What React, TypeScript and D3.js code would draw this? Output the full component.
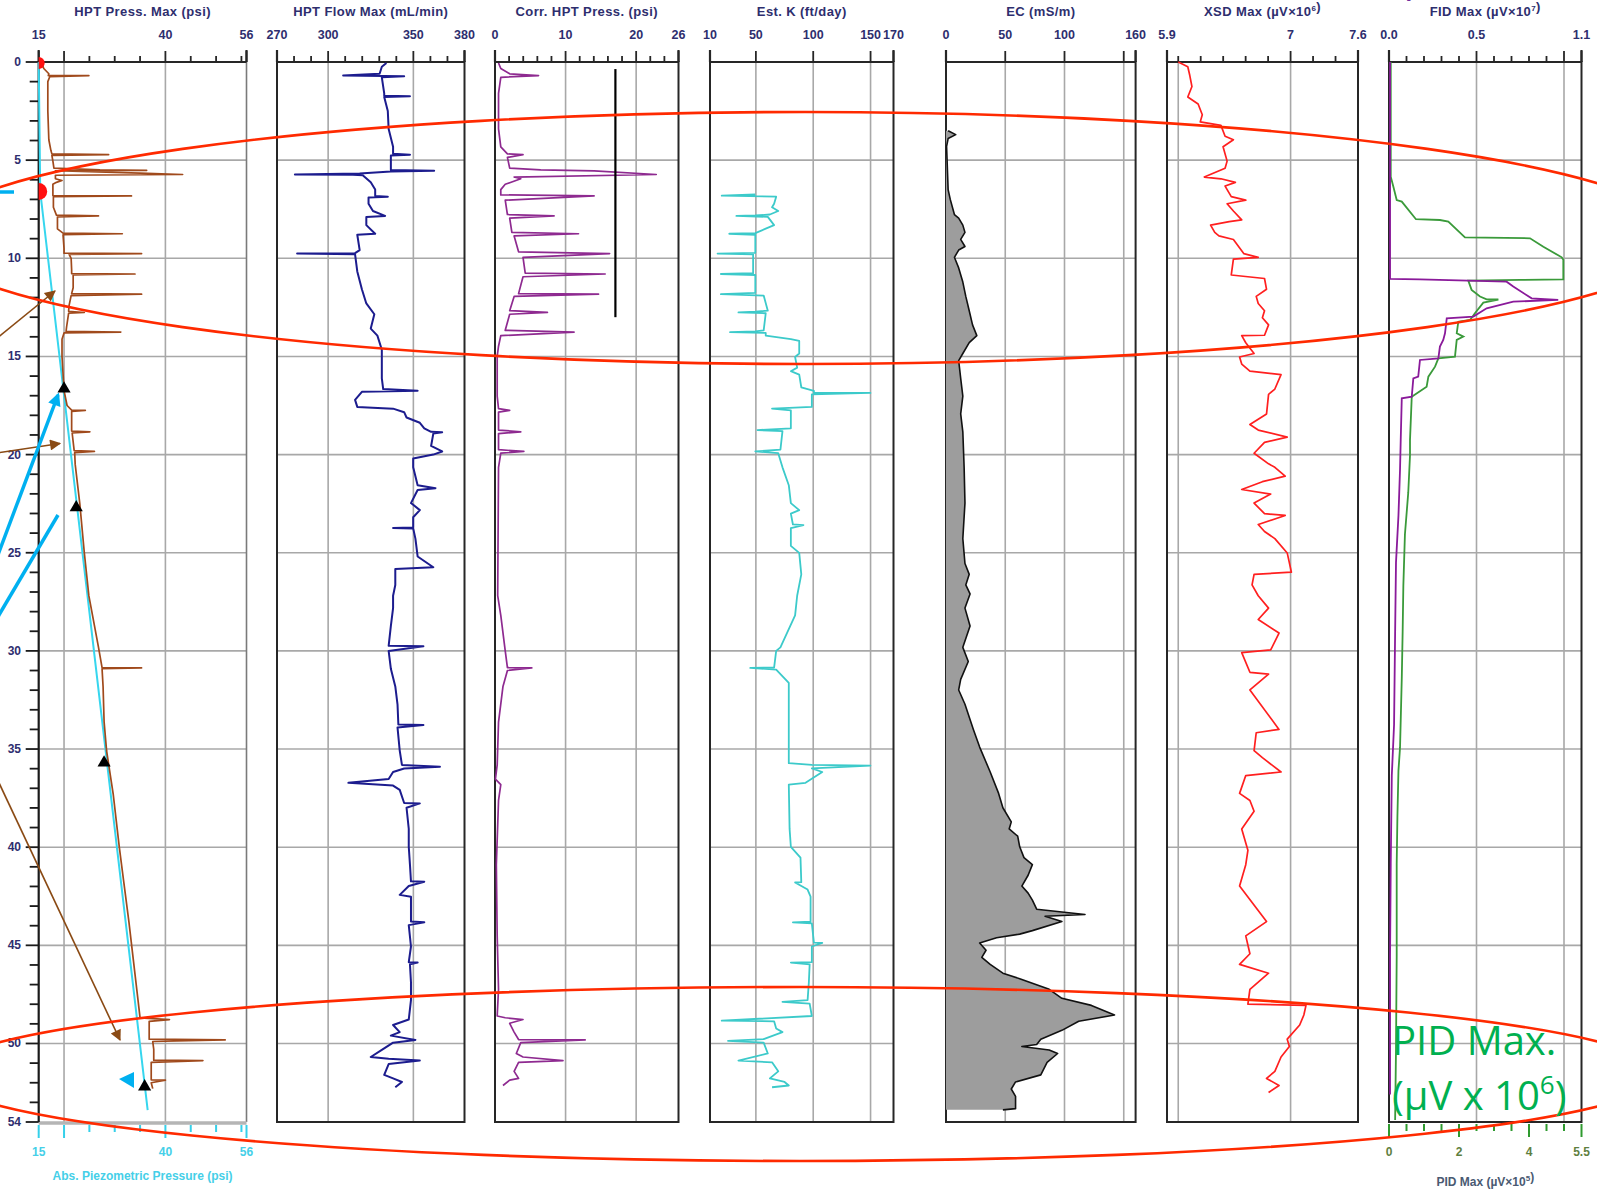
import React from 'react';
import * as d3 from 'd3';

type P = [number, number];

// ---------- DATA (depth ft, value) ----------
const depthLabels = [0, 5, 10, 15, 20, 25, 30, 35, 40, 45, 50, 54];

const hptPress: P[] = [[0.05,15.6],[0.33,16.0],[0.6,17.0],[0.69,16.9],[0.69,24.9],[0.74,17.2],[1.0,16.8],[2.5,16.8],[3.96,17.0],[4.5,17.4],[4.68,17.6],[4.72,28.8],[4.76,17.6],[5.05,17.8],[5.41,18.0],[5.5,27.1],[5.52,36.3],[5.54,18.3],[5.66,35],[5.73,43.4],[5.77,18.3],[5.95,18.3],[6.04,19.6],[6.13,18.5],[6.23,17.8],[6.5,17.8],[6.8,17.8],[6.82,33.3],[6.86,17.9],[7.4,17.9],[7.8,18.5],[7.84,26.8],[7.89,18.7],[8.5,18.7],[8.72,19.8],[8.75,31.5],[8.8,19.8],[9.5,20.0],[9.74,20.0],[9.76,35.3],[9.8,21.0],[10.0,21.4],[10.6,21.5],[10.78,21.5],[10.8,34.0],[10.85,21.8],[11.5,21.8],[11.8,21.5],[11.83,35.3],[11.9,21.4],[12.4,21.0],[12.7,20.9],[12.76,24.0],[12.8,20.9],[13.5,20.5],[13.72,20.4],[13.76,31.2],[13.8,20.0],[14.12,19.6],[15.0,19.6],[16.3,19.9],[16.75,20.0],[17.5,20.6],[17.73,21.5],[17.75,24.2],[17.8,21.5],[18.8,21.5],[18.84,25.1],[18.9,21.6],[19.8,22.0],[19.84,26.0],[19.9,22.1],[20.5,22.2],[22.47,23.1],[25.0,24.0],[27.2,24.9],[29.82,26.8],[30.85,27.5],[30.87,35.3],[30.91,27.5],[31.8,27.7],[33.6,27.9],[35.1,28.4],[37.3,29.7],[40.0,30.9],[41.8,31.8],[43.8,32.8],[45.8,33.7],[47.8,34.6],[48.7,35.0],[48.78,40.8],[48.87,36.8],[49.78,36.8],[49.82,51.8],[49.9,37.5],[50.3,37.7],[50.85,37.7],[50.87,47.4],[50.96,37.2],[51.5,37.2],[51.85,37.2],[51.87,40.0],[52.0,37.2],[52.3,37.5]];

const piezometric: P[] = [[0, 15.0], [6.6, 15.3], [53.4, 36.5]];
const waterMarks: P[] = [[16.75, 20.0], [22.8, 22.4], [35.8, 27.9], [52.3, 35.9]];
const redMarks: P[] = [[0.05, 15.0], [6.6, 15.0]];

const hptFlow: P[] = [[0.05,334.2],[0.24,331.5],[0.6,330.2],[0.69,308.8],[0.72,344.6],[0.78,331.5],[1.6,332.9],[1.72,332.9],[1.74,348],[1.78,332.9],[2.5,335],[3.41,335.5],[4.32,338.1],[4.68,338.1],[4.72,348],[4.76,336.8],[5.5,336.8],[5.54,362.2],[5.58,336.8],[5.68,318.5],[5.73,280.5],[5.75,314.5],[5.77,320.3],[6.13,325],[6.5,327.6],[6.82,327.6],[6.86,335],[6.9,323.7],[7.22,323.7],[7.59,326.3],[7.84,333.4],[7.89,322.4],[8.31,322.4],[8.75,327.6],[8.8,317.1],[9.58,318.5],[9.74,315.8],[9.76,281.8],[9.8,315.8],[10.67,317.1],[11.58,319.8],[12.3,322.4],[12.85,327.1],[13.58,325],[13.94,328.9],[14.66,331.5],[15.21,331.5],[16.12,331.5],[16.66,332.3],[16.75,352.5],[16.8,319.8],[17.21,315.8],[17.57,317.1],[17.66,338.1],[17.84,344.6],[18.11,346],[18.38,353.8],[18.66,356.4],[18.84,360.4],[18.86,366.9],[18.93,361.7],[19.56,360.4],[19.84,366.9],[20.0,361.7],[20.2,349.9],[20.65,349.9],[21.56,352.5],[21.71,363],[21.8,352.5],[22.47,348.6],[22.83,353.8],[23.19,349.9],[23.72,349.9],[23.74,338.1],[23.76,349.9],[24.28,351.2],[25.19,352.5],[25.74,361.7],[25.83,339.4],[26.64,339.4],[27.19,338.1],[27.82,338.1],[28.73,336.8],[29.74,335.5],[29.76,355.9],[30.0,335.5],[30.91,336.8],[31.81,339.4],[32.72,340.7],[33.75,341.2],[33.77,355.9],[33.9,340.7],[35.08,342],[35.81,343.3],[35.9,365.6],[35.99,344.6],[36.17,338.1],[36.53,335.5],[36.72,311.9],[36.86,338.1],[37.08,342],[37.75,344.6],[37.77,353.8],[37.99,346],[39.07,347.3],[39.98,347.3],[40.89,348],[41.74,348.6],[41.76,356.4],[41.98,347.3],[42.43,342],[42.52,348.6],[43.79,348.6],[43.83,356.4],[43.97,347.3],[45.06,348.6],[45.86,347.3],[45.88,352.5],[45.97,348],[46.88,348.6],[47.79,348.6],[48.78,347.3],[49.06,338.1],[49.42,342],[49.6,336.8],[49.82,351.2],[49.96,338.1],[50.33,331.5],[50.69,325],[50.78,335.5],[50.87,353.8],[51.05,335.5],[51.6,332.9],[51.78,338.1],[51.96,343.3],[52.23,339.4]];

const corrPress: P[] = [[0.05,0.5],[0.33,0.82],[0.6,2.08],[0.69,6.17],[0.78,0.82],[1.6,0.5],[3.41,0.5],[4.32,0.82],[4.68,1.76],[4.72,3.97],[4.86,1.76],[5.41,2.08],[5.5,6.48],[5.55,14.04],[5.73,22.85],[5.86,2.71],[5.95,3.65],[6.23,1.45],[6.5,0.82],[6.77,0.82],[6.82,14.04],[7.04,1.45],[7.77,1.76],[7.84,8.37],[7.95,2.08],[8.68,2.39],[8.75,11.83],[8.86,2.71],[9.67,3.34],[9.76,16.24],[9.95,3.97],[10.76,4.28],[10.8,15.61],[10.94,3.97],[11.8,3.34],[11.83,14.67],[11.94,2.71],[12.67,2.08],[12.76,7.43],[12.85,2.08],[13.67,1.45],[13.76,11.2],[13.94,0.82],[14.48,0.5],[14.99,0.31],[17.02,0.31],[17.66,0.5],[17.75,2.08],[17.84,0.5],[18.75,0.5],[18.84,3.65],[18.93,0.5],[19.75,0.5],[19.84,4.09],[19.93,0.82],[20.65,0.5],[27.19,0.38],[28.19,0.82],[30.0,1.45],[30.85,1.76],[30.87,5.22],[31.0,1.76],[31.81,1.13],[33.63,0.5],[35.81,0.31],[36.53,0.06],[36.81,0.82],[37.62,0.5],[40.89,0.19],[44.52,0.31],[47.24,0.5],[48.6,0.31],[48.69,1.45],[48.78,3.97],[48.97,2.08],[49.42,2.71],[49.8,3.34],[49.82,12.78],[49.96,3.65],[50.51,3.02],[50.69,3.97],[50.87,9.63],[50.96,3.34],[51.42,2.71],[51.78,3.34],[51.87,2.08],[52.14,1.13]];

const corrRefLine: P[] = [[0.36, 17.06], [13.0, 17.06]];

const estK: P[] = [[6.75,49.5],[6.81,20.2],[6.86,67.7],[7.22,65.9],[7.4,64.1],[7.59,69.5],[7.77,62.2],[7.82,49.5],[7.84,33.0],[7.89,60.4],[8.31,65.9],[8.49,58.6],[8.72,49.5],[8.75,26.8],[8.8,49.5],[9.72,49.5],[9.76,16.6],[9.8,47.6],[10.76,47.6],[10.8,19.5],[10.85,49.5],[11.76,49.5],[11.83,19.5],[11.9,56.8],[12.67,60.4],[12.72,49.5],[12.76,34.8],[12.8,58.6],[13.67,56.8],[13.72,49.5],[13.76,27.5],[13.8,58.6],[13.94,58.6],[14.12,80.5],[14.21,87.8],[14.85,87.8],[15.03,84.2],[15.57,86],[15.75,80.5],[15.93,87.8],[16.57,89.6],[16.75,100.6],[16.84,100.6],[16.86,149.9],[16.93,98.8],[17.57,98.8],[17.66,64.1],[17.75,80.5],[18.66,80.5],[18.75,51.3],[18.8,73.2],[19.75,71.4],[19.84,49.5],[19.93,69.5],[20.65,73.2],[21.56,78.7],[22.47,80.5],[22.83,87.8],[23.01,80.5],[23.56,82.3],[23.59,91.5],[23.74,80.5],[24.65,80.5],[25.01,87.8],[26.1,89.6],[27.19,86],[28.19,84.2],[29.82,71.4],[30.0,67.7],[30.85,65.9],[30.87,45.1],[30.95,67.7],[31.63,78.7],[33.63,78.7],[35.72,78.7],[35.81,98.8],[35.84,149.9],[35.99,98.8],[36.17,107.9],[36.72,93.3],[36.81,78.7],[39.07,79.4],[39.98,80.5],[40.53,88.9],[41.78,89.6],[41.8,84.2],[42.16,95.1],[42.52,97.7],[43.79,97.7],[43.83,82.3],[43.88,98.8],[44.86,100.6],[44.88,107.9],[45.06,98.8],[45.86,98.8],[45.88,80.5],[45.97,96.9],[46.88,96.2],[47.79,95.1],[47.88,73.2],[47.97,96.9],[48.6,98.8],[48.84,20.2],[48.87,65.9],[49.24,67.7],[49.42,73.2],[49.78,56.8],[49.87,25.7],[49.96,56.8],[50.51,60.4],[50.87,34.8],[50.96,64.1],[51.42,69.5],[51.78,62.2],[51.96,75],[52.14,78.7],[52.23,64.1]];

const ec: P[] = [[3.5,1.8],[3.7,8.2],[3.9,1.8],[4.3,0.5],[6.5,1.8],[7.0,3.6],[7.77,7.1],[7.95,10.7],[8.31,14.2],[8.68,16],[9.04,12.4],[9.4,16],[9.58,10.7],[9.95,7.1],[10.49,10.7],[11.21,14.2],[11.94,16.7],[12.67,19.6],[13.39,22.4],[13.94,26],[14.3,19.6],[14.85,14.2],[15.21,10.7],[16.12,12.4],[17.02,14.2],[17.93,12.4],[18.84,14.2],[20.65,15.3],[22.47,16],[24.28,14.2],[25.55,16],[26.1,19.6],[26.64,16.7],[27.1,20.3],[27.82,16],[28.73,20.3],[29.82,14.2],[30.54,18.8],[31.45,12.4],[31.99,10.7],[32.72,16],[34.0,23.1],[34.9,28.4],[36.17,37.3],[37.26,44.4],[37.99,48],[38.71,55.1],[39.07,53.3],[39.44,60.5],[39.98,62.2],[40.53,65.8],[40.89,72.9],[41.43,69.3],[41.98,64],[42.34,69.3],[42.7,72.9],[43.16,76.5],[43.43,117.3],[43.52,83.6],[43.79,97.8],[44.25,72.9],[44.43,62.2],[44.61,42.7],[44.88,28.4],[45.25,33.8],[45.61,30.2],[45.97,37.3],[46.42,48],[46.7,62.2],[47.24,87.1],[47.7,97.8],[48.06,122.7],[48.55,142.2],[48.87,112],[49.33,97.8],[49.78,80],[50.05,76.5],[50.15,64],[50.33,87.1],[50.51,94.2],[50.96,85.3],[51.6,80],[51.96,58.7],[52.32,55.1],[52.69,58.7],[53.32,58.7],[53.38,48]];

const xsd: P[] = [[0.0,6.0],[0.24,6.085],[0.69,6.103],[1.25,6.122],[1.78,6.085],[2.14,6.177],[2.69,6.214],[3.05,6.196],[3.23,6.38],[3.78,6.417],[3.96,6.491],[4.32,6.399],[5.05,6.435],[5.41,6.417],[5.86,6.232],[5.95,6.38],[6.13,6.509],[6.32,6.417],[6.86,6.472],[7.04,6.601],[7.22,6.435],[7.59,6.491],[8.04,6.565],[8.13,6.454],[8.31,6.288],[8.68,6.325],[8.86,6.362],[9.04,6.491],[9.76,6.583],[9.95,6.712],[10.04,6.491],[10.85,6.472],[11.03,6.768],[11.58,6.786],[11.94,6.694],[12.3,6.712],[12.67,6.768],[13.03,6.749],[13.39,6.804],[13.92,6.768],[13.94,6.565],[14.3,6.601],[14.85,6.675],[15.03,6.546],[15.39,6.565],[15.75,6.638],[15.93,6.915],[16.66,6.86],[16.93,6.804],[17.93,6.786],[18.47,6.638],[18.75,6.712],[19.11,6.97],[19.38,6.768],[19.93,6.675],[20.47,6.804],[20.65,6.86],[21.1,6.952],[21.38,6.749],[21.78,6.565],[22.01,6.823],[22.47,6.675],[23.01,6.768],[23.1,6.952],[23.56,6.712],[23.92,6.768],[24.28,6.86],[25.01,6.97],[25.99,7.007],[26.1,6.675],[26.64,6.657],[27.19,6.712],[27.82,6.804],[28.4,6.712],[29.09,6.897],[29.95,6.823],[30.09,6.565],[31.09,6.638],[31.18,6.804],[31.99,6.638],[34.0,6.897],[34.17,6.694],[35.08,6.675],[35.44,6.749],[36.17,6.915],[36.35,6.601],[37.26,6.546],[37.62,6.638],[38.17,6.675],[39.07,6.565],[40.16,6.62],[40.89,6.601],[41.98,6.546],[43.79,6.786],[44.52,6.601],[45.43,6.638],[45.97,6.546],[46.42,6.804],[47.24,6.638],[48.0,6.62],[48.06,7.137],[48.55,7.118],[49.06,7.081],[49.78,6.97],[50.15,6.989],[50.69,6.915],[51.42,6.86],[51.78,6.786],[52.14,6.897],[52.5,6.804]];

// PID Max (bottom scale, µV x10^5) - green
const pidMax: P[] = [[0,0.05],[5.84,0.05],[6.35,0.125],[7.03,0.22],[7.11,0.365],[8.01,0.77],[8.05,1.455],[8.13,1.695],[8.93,2.17],[8.98,4.03],[9.41,4.41],[9.95,4.935],[10.08,4.98],[11.07,4.98],[11.1,3.745],[11.14,2.265],[11.61,2.36],[11.95,2.6],[12.09,2.79],[12.1,3.125],[12.26,2.695],[12.8,2.455],[13.14,2.315],[13.23,1.98],[13.82,1.935],[13.99,2.125],[14.16,1.935],[15.01,1.885],[15.1,1.41],[15.52,1.315],[16.03,1.125],[16.54,1.075],[17.05,0.65],[19.26,0.6],[20.05,0.6],[21.94,0.55],[24.07,0.455],[26.67,0.41],[29.03,0.39],[31.39,0.365],[34.93,0.315],[36.11,0.27],[38.47,0.24],[40.84,0.22],[45.56,0.22],[50.28,0.2],[53.9,0.175]];

// FID Max (top scale, µV x10^7) - purple
const fidMax: P[] = [[0,0.006],[11.05,0.006],[11.07,0.177],[11.19,0.672],[11.44,0.71],[12.04,0.815],[12.12,0.967],[12.21,0.71],[12.55,0.558],[12.97,0.482],[13.06,0.33],[13.82,0.32],[14.16,0.31],[14.5,0.291],[15.1,0.282],[15.18,0.177],[16.03,0.167],[16.12,0.139],[17.05,0.13],[17.13,0.073],[19.26,0.067],[20.76,0.063],[23.12,0.054],[25.49,0.04],[29.03,0.035],[33.75,0.029],[36.35,0.016],[40.84,0.01],[45.56,0.006],[52.6,0.006]];

// ---------- AXIS DEFINITIONS ----------
const hptLabels = [15, 40, 56];
const flowLabels = [270, 300, 350, 380];
const corrLabels = [0, 10, 20, 26];
const kLabels = [10, 50, 100, 150, 170];
const ecLabels = [0, 50, 100, 160];
const xsdLabels = [5.9, 7, 7.6];
const fidLabels = [0, 0.5, 1.1];
const pidLabels = [0, 2, 4, 5.5];

const FONT = "'Liberation Sans', Arial, Helvetica, sans-serif";
const CALLOUT_FONT = "'Open Sans', 'Noto Sans', sans-serif";
const NAVY = '#2e2e6e';
const GRID = '#a8a8a8';

type Panel = {
  key: string;
  title: React.ReactNode;
  x0: number; x1: number;
  domain: [number, number];
  ticks: number[];
  majors: number[];
  labels: number[];
  fmt: (v: number) => string;
  grid: number[];
  frame: boolean;
};

const sup = (s: string) => <tspan dy={-5} fontSize={8}>{s}</tspan>;

const panels: Panel[] = [
  { key: 'hpt', title: 'HPT Press. Max (psi)', x0: 38.7, x1: 246.5, domain: [15, 56], ticks: [...d3.range(15, 56, 5), 56], majors: [15, 20, 40, 56], labels: hptLabels, fmt: String, grid: [20, 40], frame: false },
  { key: 'flow', title: 'HPT Flow Max (mL/min)', x0: 277, x1: 464.5, domain: [270, 380], ticks: d3.range(270, 381, 10), majors: [270, 300, 350, 380], labels: flowLabels, fmt: String, grid: [300, 350], frame: true },
  { key: 'corr', title: 'Corr. HPT Press. (psi)', x0: 495, x1: 678.5, domain: [0, 26], ticks: d3.range(0, 27, 2), majors: [0, 10, 20, 26], labels: corrLabels, fmt: String, grid: [10, 20], frame: true },
  { key: 'k', title: 'Est. K (ft/day)', x0: 710, x1: 893.5, domain: [10, 170], ticks: [10, 50, 100, 150, 170], majors: [10, 50, 100, 150, 170], labels: kLabels, fmt: String, grid: [50, 100, 150], frame: true },
  { key: 'ec', title: 'EC (mS/m)', x0: 946, x1: 1135.6, domain: [0, 160], ticks: [0, 50, 100, 150, 160], majors: [0, 50, 100, 150, 160], labels: ecLabels, fmt: String, grid: [50, 100, 150], frame: true },
  { key: 'xsd', title: <>XSD Max (µV×10{sup('6')})</>, x0: 1167, x1: 1358, domain: [5.9, 7.6], ticks: d3.range(6.0, 7.61, 0.2), majors: [5.9, 7, 7.6], labels: xsdLabels, fmt: String, grid: [6.0, 7.0], frame: true },
  { key: 'fid', title: <>FID Max (µV×10{sup('7')})</>, x0: 1389, x1: 1581.5, domain: [0, 1.1], ticks: d3.range(0, 1.101, 0.1), majors: [0, 0.5, 1.0, 1.1], labels: fidLabels, fmt: d3.format('.1f'), grid: [0.5, 1.0], frame: true },
];

export default function App() {
  const W = 1597, H = 1192;
  const y = d3.scaleLinear().domain([0, 54]).range([62, 1122]);
  const yTop = y(0), yBot = y(54);
  const xs: Record<string, d3.ScaleLinear<number, number>> = {};
  panels.forEach(p => { xs[p.key] = d3.scaleLinear().domain(p.domain).range([p.x0, p.x1]); });
  const pidX = d3.scaleLinear().domain([0, 5.5]).range([panels[6].x0, panels[6].x1]);

  const mk = (sc: d3.ScaleLinear<number, number>) =>
    d3.line<P>().x(d => sc(d[1])).y(d => y(d[0]));
  const ecArea = d3.area<P>().y(d => y(d[0])).x0(xs.ec(0)).x1(d => xs.ec(d[1]));
  const ecLine = mk(xs.ec);
  const tri = d3.symbol().type(d3.symbolTriangle).size(75)();
  const halfDisc = (r: number) => d3.arc()({ innerRadius: 0, outerRadius: r, startAngle: 0, endAngle: Math.PI } as any) as string;
  const depthTicks = d3.range(0, 55, 1);

  return (
    <svg width={W} height={H} viewBox={`0 0 ${W} ${H}`} style={{ position: 'absolute', left: 0, top: 0, background: '#fff', display: 'block' }} fontFamily={FONT}>
      <defs>
        <marker id="arrBrown" viewBox="0 0 10 10" refX="9" refY="5" markerWidth="13" markerHeight="11" markerUnits="userSpaceOnUse" orient="auto">
          <path d="M0,0 L10,5 L0,10 z" fill="#8a4a14" />
        </marker>
        <marker id="arrCyan" viewBox="0 0 10 10" refX="8" refY="5" markerWidth="15" markerHeight="13" markerUnits="userSpaceOnUse" orient="auto">
          <path d="M0,0 L10,5 L0,10 z" fill="#00b0f0" />
        </marker>
      </defs>
      <rect x={0} y={0} width={W} height={H} fill="#fff" />

      {/* partially visible callout texts cut by the page edges */}
      <text x={1392} y={-9} fontFamily={CALLOUT_FONT} fontSize={40} fill="#7030a0">(µV x 10<tspan dy={-16} fontSize={26}>7</tspan><tspan dy={16}>)</tspan></text>
      <text x={105} y={1212.5} fontFamily={CALLOUT_FONT} fontSize={27} fill="#0a9fe0">Abs. Piezometric Pressure (psi)</text>

      {/* panels: grid, frames, ticks, labels */}
      {panels.map(p => {
        const sc = xs[p.key];
        return (
          <g key={p.key}>
            {p.grid.map(g => <line key={'vg' + g} x1={sc(g)} x2={sc(g)} y1={yTop} y2={yBot} stroke={GRID} strokeWidth={1.6} />)}
            {d3.range(5, 51, 5).map(d => <line key={'hg' + d} x1={p.x0} x2={p.x1} y1={y(d)} y2={y(d)} stroke={GRID} strokeWidth={1.6} />)}
            {p.frame ? (
              <rect x={p.x0} y={yTop} width={p.x1 - p.x0} height={yBot - yTop} fill="none" stroke="#262626" strokeWidth={2} />
            ) : (
              <g>
                <line x1={p.x1} x2={p.x1} y1={yTop} y2={yBot} stroke="#7a7a7a" strokeWidth={1.6} />
                <line x1={p.x0} x2={p.x1} y1={yBot + 1} y2={yBot + 1} stroke="#b5b5b5" strokeWidth={3.5} />
                <line x1={p.x0} x2={p.x1} y1={yTop} y2={yTop} stroke="#262626" strokeWidth={2} />
              </g>
            )}
            {p.ticks.map(t => {
              const major = p.majors.some(m => Math.abs(m - t) < 1e-6);
              return <line key={'t' + t} x1={sc(t)} x2={sc(t)} y1={yTop} y2={yTop - (major ? 11 : 6)} stroke="#262626" strokeWidth={1.8} />;
            })}
            {p.majors.filter(m => Math.abs(m - p.domain[0]) < 1e-6 || Math.abs(m - p.domain[1]) < 1e-6).map(m =>
              <line key={'e' + m} x1={sc(m)} x2={sc(m)} y1={yTop} y2={yTop - 12} stroke="#262626" strokeWidth={2.2} />)}
            {p.labels.map(l => (
              <text key={'l' + l} x={sc(l)} y={39} textAnchor="middle" fontSize={12.5} fontWeight="bold" fill={NAVY}>{p.fmt(l)}</text>
            ))}
            <text x={(p.x0 + p.x1) / 2} y={16} textAnchor="middle" fontSize={13} letterSpacing={0.4} fontWeight="bold" fill={NAVY}>{p.title}</text>
          </g>
        );
      })}

      {/* depth axis */}
      <line x1={38.7} x2={38.7} y1={yTop} y2={yBot} stroke="#1a1a1a" strokeWidth={2.2} />
      {depthTicks.map(d => {
        const major = d % 5 === 0 || d === 54;
        return <line key={'dt' + d} x1={38.7} x2={38.7 - (major ? 13 : 9)} y1={y(d)} y2={y(d)} stroke="#1a1a1a" strokeWidth={1.8} />;
      })}
      {depthLabels.map(d => (
        <text key={'dl' + d} x={21} y={y(d) + 4} textAnchor="end" fontSize={12} fontWeight="bold" fill={NAVY}>{d}</text>
      ))}

      {/* bottom axis: Abs. piezometric pressure */}
      {panels[0].ticks.map(t => {
        const major = [15, 20, 40, 56].includes(t);
        return <line key={'bt' + t} x1={xs.hpt(t)} x2={xs.hpt(t)} y1={yBot + 3} y2={yBot + (major ? 16 : 10)} stroke="#35d0ea" strokeWidth={2} />;
      })}
      {hptLabels.map(l => <text key={'bl' + l} x={xs.hpt(l)} y={1156} textAnchor="middle" fontSize={12} fontWeight="bold" fill="#45cfe8">{l}</text>)}
      <text x={(panels[0].x0 + panels[0].x1) / 2} y={1180} textAnchor="middle" fontSize={12} fontWeight="bold" fill="#45cfe8">Abs. Piezometric Pressure (psi)</text>

      {/* bottom axis: PID */}
      {d3.range(0, 5.51, 0.5).map(t => {
        const major = [0, 2, 4, 5.5].some(m => Math.abs(m - t) < 1e-6);
        return <line key={'pt' + t} x1={pidX(t)} x2={pidX(t)} y1={yBot + 2} y2={yBot + (major ? 15 : 9)} stroke="#2f9a2f" strokeWidth={2} />;
      })}
      {pidLabels.map(l => <text key={'pl' + l} x={pidX(l)} y={1156} textAnchor="middle" fontSize={12} fontWeight="bold" fill="#5f7f3f">{l}</text>)}
      <text x={(panels[6].x0 + panels[6].x1) / 2} y={1186} textAnchor="middle" fontSize={12} fontWeight="bold" fill="#4a5a72">PID Max (µV×10{sup('5')})</text>

      {/* data: HPT press + piezometric */}
      <path d={mk(xs.hpt)(piezometric) as string} fill="none" stroke="#36d6ee" strokeWidth={2} />
      <path d={mk(xs.hpt)(hptPress) as string} fill="none" stroke="#a04a1c" strokeWidth={1.7} strokeLinejoin="round" />
      {redMarks.map((m, i) => <path key={'rm' + i} d={halfDisc(i === 0 ? 6 : 8.5)} transform={`translate(${xs.hpt(m[1])},${y(m[0])})`} fill="#ff1010" />)}
      {waterMarks.map((m, i) => <path key={'wm' + i} d={tri as string} transform={`translate(${xs.hpt(m[1])},${y(m[0]) - 2})`} fill="#000" />)}

      {/* HPT flow */}
      <path d={mk(xs.flow)(hptFlow) as string} fill="none" stroke="#1c1c8e" strokeWidth={2} strokeLinejoin="round" />
      {/* Corr HPT */}
      <path d={mk(xs.corr)(corrPress) as string} fill="none" stroke="#8e2a90" strokeWidth={1.7} strokeLinejoin="round" />
      <path d={mk(xs.corr)(corrRefLine) as string} fill="none" stroke="#000" strokeWidth={2.2} />
      {/* Est K */}
      <path d={mk(xs.k)(estK) as string} fill="none" stroke="#3ccaca" strokeWidth={1.8} strokeLinejoin="round" />
      {/* EC */}
      <path d={ecArea(ec) as string} fill="#9d9d9d" stroke="none" />
      <path d={ecLine(ec) as string} fill="none" stroke="#111" strokeWidth={1.6} strokeLinejoin="round" />
      {/* XSD */}
      <path d={mk(xs.xsd)(xsd) as string} fill="none" stroke="#ff1f1f" strokeWidth={1.7} strokeLinejoin="round" />
      {/* PID (green) and FID (purple) */}
      <path d={d3.line<P>().x(d => pidX(d[1])).y(d => y(d[0]))(pidMax) as string} fill="none" stroke="#3a9a3a" strokeWidth={1.8} />
      <path d={mk(xs.fid)(fidMax) as string} fill="none" stroke="#8a1a9a" strokeWidth={1.8} />

      {/* annotations */}
      <line x1={-20} y1={352} x2={55} y2={291} stroke="#8a4a14" strokeWidth={1.6} markerEnd="url(#arrBrown)" />
      <line x1={-10} y1={454} x2={60} y2={443.5} stroke="#8a4a14" strokeWidth={1.6} markerEnd="url(#arrBrown)" />
      <line x1={-8} y1={768} x2={120} y2={1040} stroke="#8a4a14" strokeWidth={1.6} markerEnd="url(#arrBrown)" />
      <line x1={-4} y1={560} x2={58} y2={395} stroke="#00b0f0" strokeWidth={3.5} markerEnd="url(#arrCyan)" />
      <line x1={-4} y1={620} x2={58} y2={515} stroke="#00b0f0" strokeWidth={3.5} />
      <line x1={0} y1={192} x2={14} y2={192} stroke="#00b0f0" strokeWidth={3.5} />
      <polygon points="119,1079 134,1072 134,1088" fill="#00b0f0" />

      {/* red ellipses */}
      <ellipse cx={805} cy={238} rx={880} ry={126} fill="none" stroke="#ff2a00" strokeWidth={2.6} />
      <ellipse cx={800} cy={1074} rx={860} ry={87} fill="none" stroke="#ff2a00" strokeWidth={2.6} />

      {/* callout text */}
      <text x={1392} y={1055} fontFamily={CALLOUT_FONT} fontSize={40} fill="#00b050">PID Max.</text>
      <text x={1392} y={1110} fontFamily={CALLOUT_FONT} fontSize={40} fill="#00b050">(µV x 10<tspan dy={-16} fontSize={26}>6</tspan><tspan dy={16}>)</tspan></text>
    </svg>
  );
}
